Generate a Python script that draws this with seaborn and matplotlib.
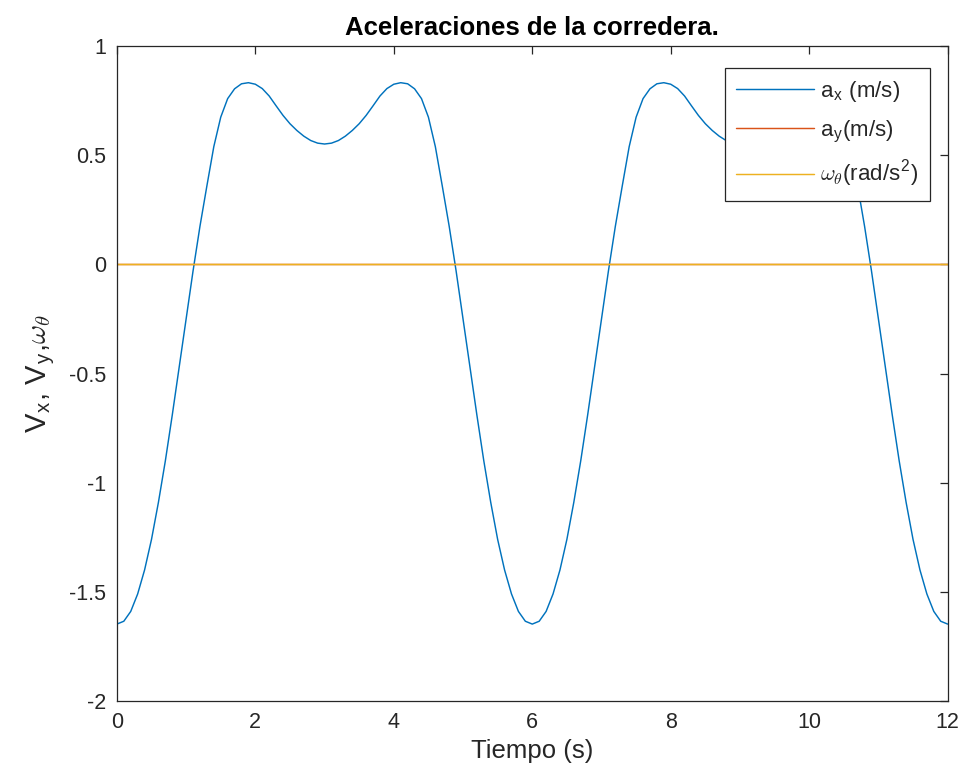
import numpy as np
import pandas as pd
import matplotlib
matplotlib.use("Agg")
import matplotlib.pyplot as plt
import seaborn as sns

# ---- data ----
t = [round(0.1 * i, 1) for i in range(121)]
a_x = [
    -1.648, -1.635, -1.59, -1.51, -1.40, -1.26, -1.09, -0.90, -0.69, -0.47,
    -0.25, -0.03, 0.175, 0.36, 0.54, 0.675, 0.76, 0.805, 0.828, 0.833,
    0.826, 0.806, 0.772, 0.727, 0.683, 0.645, 0.614, 0.588, 0.568, 0.556,
    0.552, 0.556, 0.568, 0.588, 0.614, 0.645, 0.683, 0.727, 0.772, 0.806,
    0.826, 0.833, 0.828, 0.805, 0.76, 0.675, 0.54, 0.36, 0.175, -0.03,
    -0.25, -0.47, -0.69, -0.90, -1.09, -1.26, -1.40, -1.51, -1.59, -1.635,
    -1.648, -1.635, -1.59, -1.51, -1.40, -1.26, -1.09, -0.90, -0.69, -0.47,
    -0.25, -0.03, 0.175, 0.36, 0.54, 0.675, 0.76, 0.805, 0.828, 0.833,
    0.826, 0.806, 0.772, 0.727, 0.683, 0.645, 0.614, 0.588, 0.568, 0.556,
    0.552, 0.556, 0.568, 0.588, 0.614, 0.645, 0.683, 0.727, 0.772, 0.806,
    0.826, 0.833, 0.828, 0.805, 0.76, 0.675, 0.54, 0.36, 0.175, -0.03,
    -0.25, -0.47, -0.69, -0.90, -1.09, -1.26, -1.40, -1.51, -1.59, -1.635,
    -1.648,
]
a_y = [0.0] * 121
w_theta = [0.0] * 121

series_labels = [r'a$_\mathregular{x}$ (m/s)', r'a$_\mathregular{y}$(m/s)',
                 r'$\omega_\theta$(rad/s$^\mathregular{2}$)']
series_colors = ['#0072BD', '#D95319', '#EDB120']

xticks = [0, 2, 4, 6, 8, 10, 12]
xticklabels = ['0', '2', '4', '6', '8', '10', '12']
yticks = [-2, -1.5, -1, -0.5, 0, 0.5, 1]
yticklabels = ['-2', '-1.5', '-1', '-0.5', '0', '0.5', '1']

title = 'Aceleraciones de la corredera.'
xlabel = 'Tiempo (s)'
ylabel = r'V$_\mathregular{x}$, V$_\mathregular{y}$,$\omega_\theta$'

# ---- style ----
sns.set_style("white")
plt.rcParams['font.family'] = ['Liberation Sans', 'DejaVu Sans']
plt.rcParams['mathtext.fontset'] = 'cm'
plt.rcParams['axes.unicode_minus'] = False
edge = '#262626'

df = pd.DataFrame({'t': t, 'ax': a_x, 'ay': a_y, 'w': w_theta})

fig = plt.figure(figsize=(9.66, 7.84), dpi=100)
ax = fig.add_axes([0.121, 0.106, 0.860, 0.835])

for col, lab, c in zip(['ax', 'ay', 'w'], series_labels, series_colors):
    sns.lineplot(data=df, x='t', y=col, ax=ax, color=c, linewidth=1.05,
                 label=lab, estimator=None, sort=False)

ax.set_xlim(0, 12)
ax.set_ylim(-2, 1)
ax.set_xticks(xticks)
ax.set_xticklabels(xticklabels)
ax.set_yticks(yticks)
ax.set_yticklabels(yticklabels)
ax.tick_params(direction='in', length=5.5, width=0.9, colors=edge,
               labelsize=15.5, top=True, right=True, pad=8,
               labelcolor=edge)
for s in ax.spines.values():
    s.set_visible(True)
    s.set_color(edge)
    s.set_linewidth(0.9)

ax.set_title(title, fontsize=18.5, fontweight='bold', color='black', pad=8)
ax.set_xlabel(xlabel, fontsize=18.5, color=edge, labelpad=4)
ax.set_ylabel(ylabel, fontsize=21, color=edge, labelpad=8)

leg = ax.legend(loc='upper right', bbox_to_anchor=(930 / 966, 1 - 68 / 784),
                bbox_transform=fig.transFigure, borderaxespad=0,
                frameon=True, fancybox=False, framealpha=1, fontsize=16,
                handlelength=3.5, handletextpad=0.3, labelspacing=0.65,
                borderpad=0.5)
leg.get_frame().set_edgecolor(edge)
leg.get_frame().set_linewidth(0.9)

fig.savefig('out.png', dpi=100)
